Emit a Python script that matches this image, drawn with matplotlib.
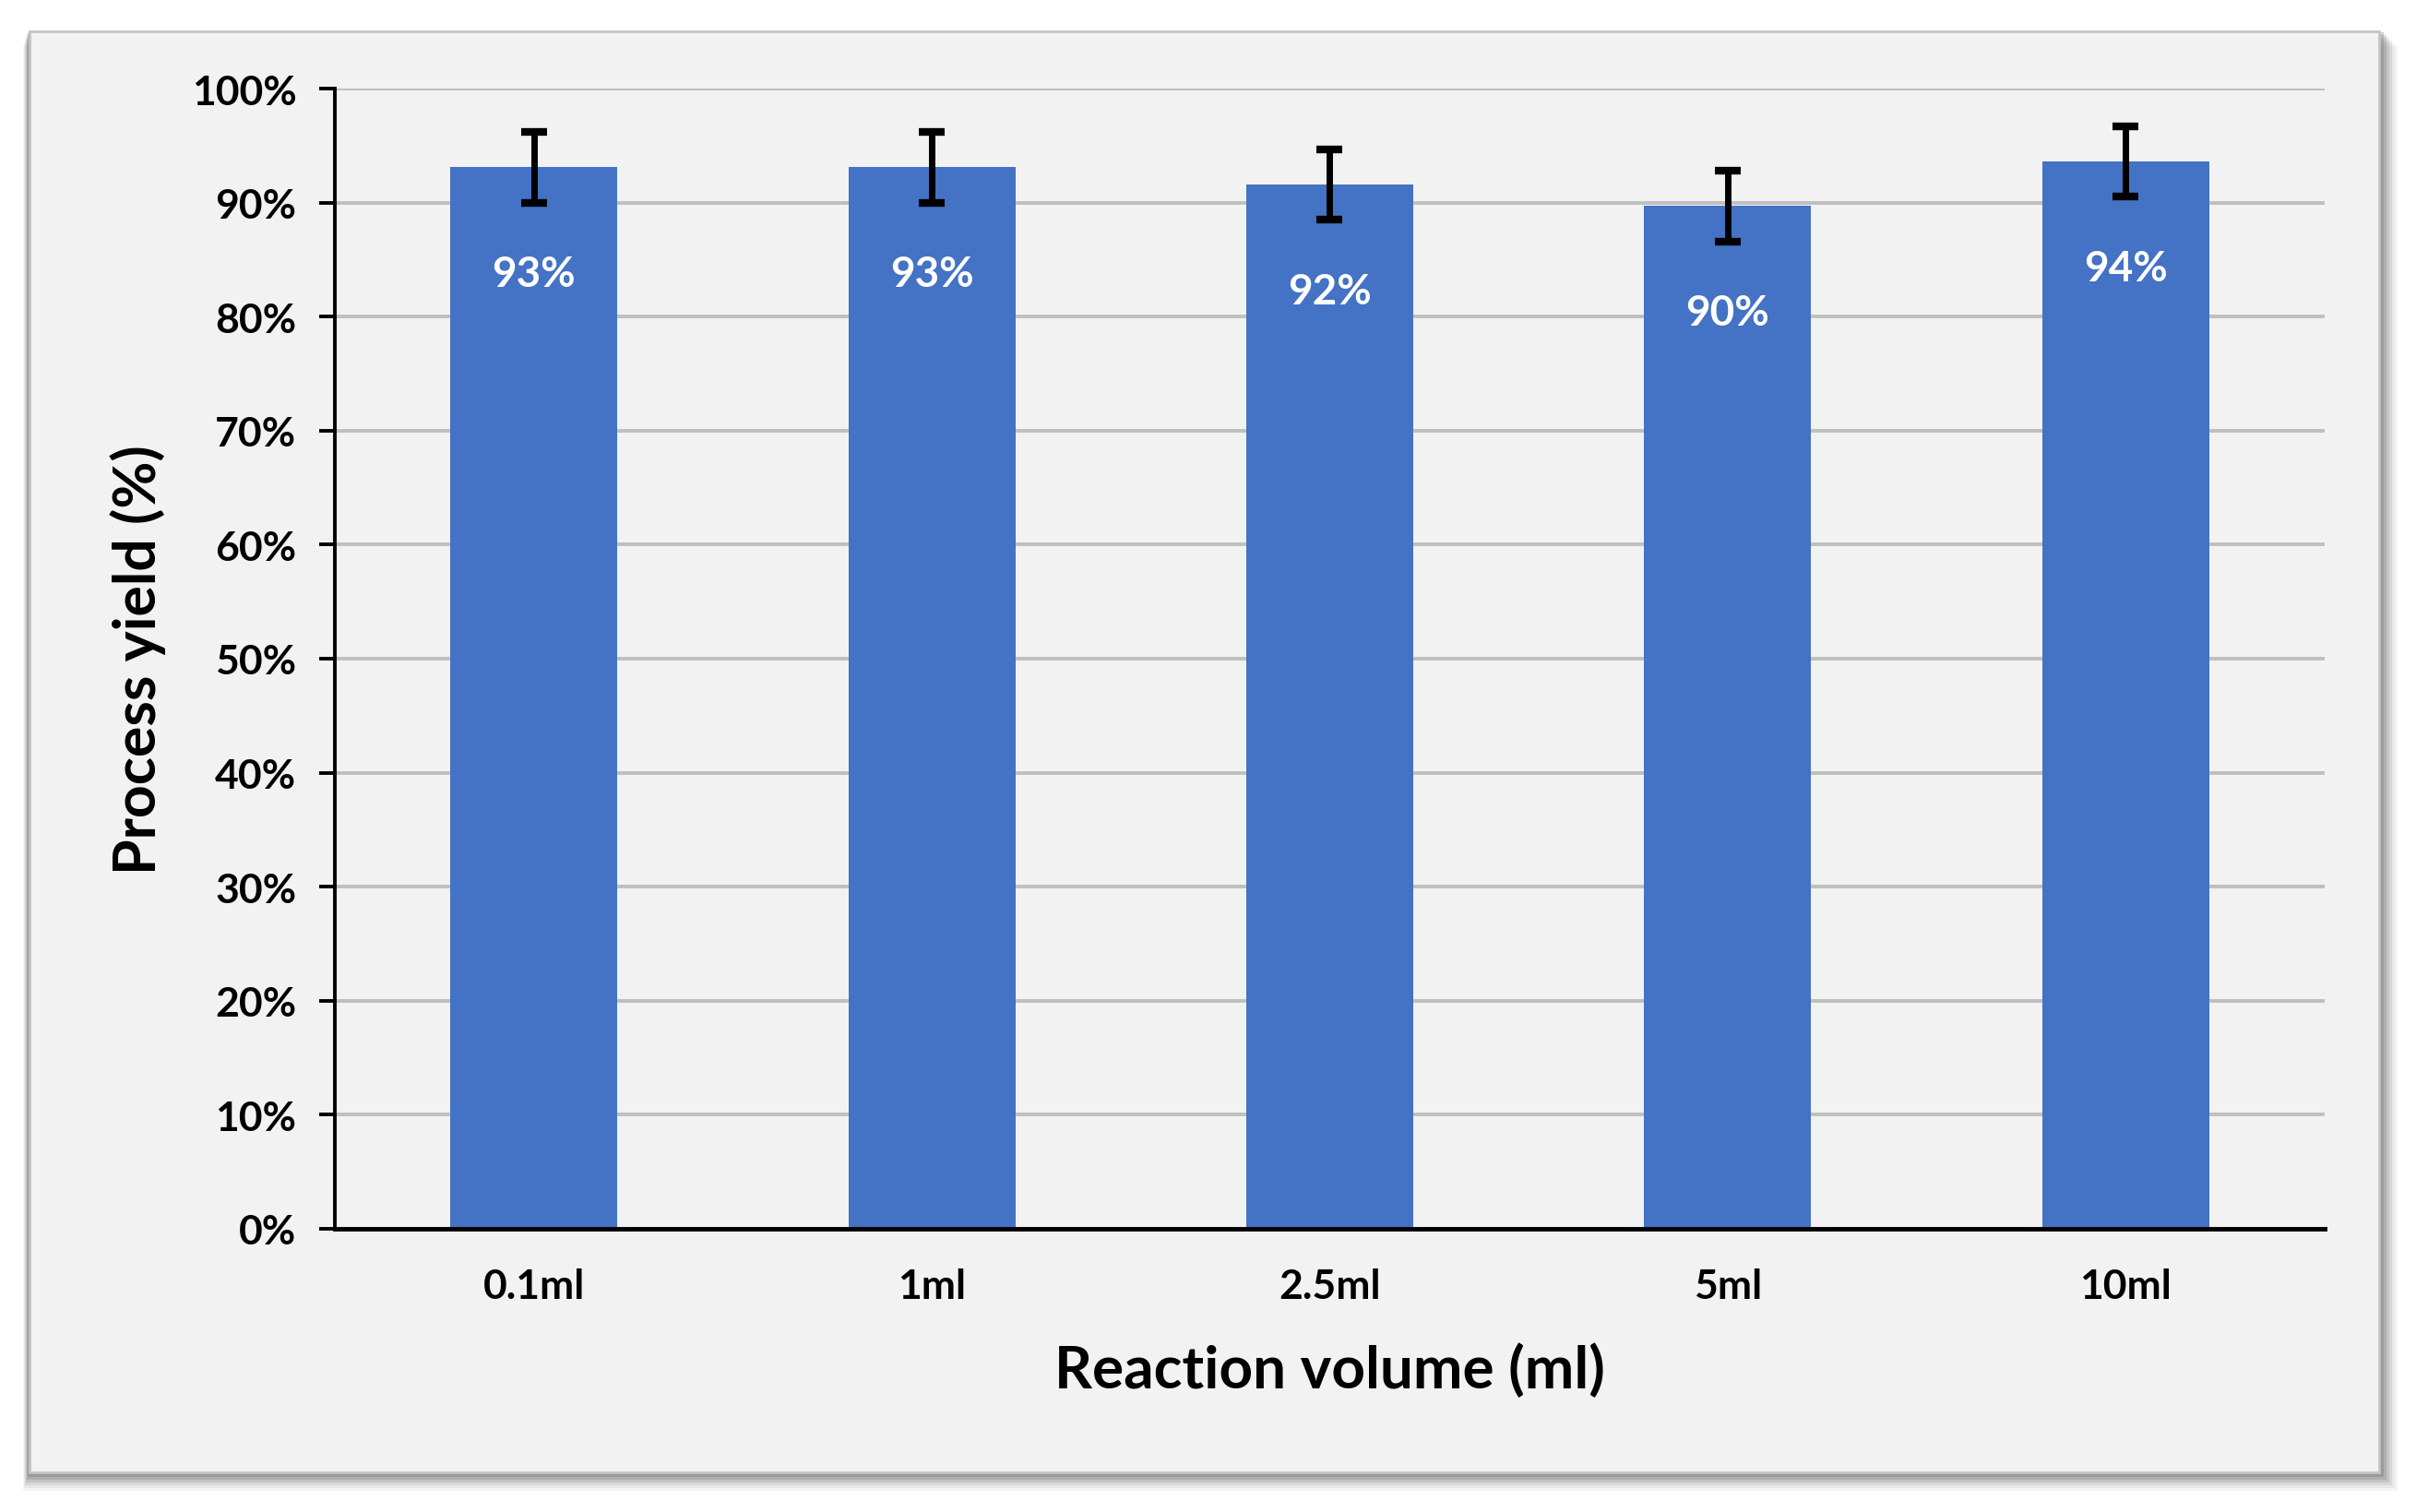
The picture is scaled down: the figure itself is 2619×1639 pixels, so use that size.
import matplotlib
matplotlib.use("Agg")
import matplotlib.pyplot as plt
from matplotlib.patches import Rectangle
from matplotlib.ticker import PercentFormatter

categories = ["0.1ml", "1ml", "2.5ml", "5ml", "10ml"]
yield_pct = [93.1, 93.1, 91.6, 89.7, 93.6]
yield_err = [3.1, 3.1, 3.1, 3.1, 3.05]
bar_labels = ["93%", "93%", "92%", "90%", "94%"]
y_ticks = [0, 10, 20, 30, 40, 50, 60, 70, 80, 90, 100]

plt.rcParams['font.family'] = ['Lato', 'DejaVu Sans']
plt.rcParams['font.weight'] = 'bold'

W, H = 2619, 1640
fig = plt.figure(figsize=(W / 100, H / 100), dpi=100, facecolor='white')

# panel with soft shadow
px0, py0, px1, py1 = 32, 35, 2579, 1597
for k, a in enumerate([0.08, 0.10, 0.14, 0.2, 0.28, 0.36]):
    off = 20 - k * 3
    fig.patches.append(Rectangle(((px0 - 7 + k) / W, 1 - (py1 + off) / H),
                                 (px1 - px0 + off + 7 - k) / W, (py1 - py0 + 4) / H,
                                 transform=fig.transFigure, facecolor='#7a7a7a',
                                 edgecolor='none', alpha=a, zorder=-3))
fig.patches.append(Rectangle((px0 / W, 1 - py1 / H), (px1 - px0) / W, (py1 - py0) / H,
                             transform=fig.transFigure, facecolor='#f2f2f2',
                             edgecolor='#c4c4c4', linewidth=2, zorder=-2))

ax = fig.add_axes([363 / W, 1 - 1333 / H, (2520 - 363) / W, (1333 - 97) / H])
ax.set_facecolor('none')

x = list(range(len(categories)))
ax.bar(x, yield_pct, width=0.42, color='#4472c4', zorder=3)
ax.errorbar(x, yield_pct, yerr=yield_err, fmt='none', ecolor='black',
            elinewidth=5, capsize=10, capthick=6, zorder=4)
for xi, v, lab in zip(x, yield_pct, bar_labels):
    ax.text(xi, v - 9.4, lab, ha='center', va='center', color='white',
            fontsize=33, fontweight='bold', zorder=5)

ax.set_xlim(-0.5, len(categories) - 0.5)
ax.set_ylim(0, 100)
ax.set_yticks(y_ticks)
ax.yaxis.set_major_formatter(PercentFormatter(decimals=0))
ax.set_xticks(x)
ax.set_xticklabels(categories)

ax.grid(axis='y', color='#bfbfbf', linewidth=2.8, zorder=0)
ax.set_axisbelow(True)
for s in ['top', 'right']:
    ax.spines[s].set_visible(False)
ax.spines['left'].set_linewidth(2.8)
ax.spines['bottom'].set_linewidth(3.5)
ax.spines['left'].set_zorder(6)
ax.spines['bottom'].set_zorder(6)

ax.tick_params(axis='y', length=12, width=2.8, pad=18, labelsize=32)
ax.tick_params(axis='x', length=0, pad=30, labelsize=32)
for t in ax.get_xticklabels() + ax.get_yticklabels():
    t.set_fontweight('bold')

ax.set_xlabel("Reaction volume (ml)", fontsize=46, fontweight='bold', labelpad=29)
ax.set_ylabel("Process yield (%)", fontsize=45, fontweight='bold', labelpad=20)

fig.savefig("out.png", dpi=100, facecolor='white')
